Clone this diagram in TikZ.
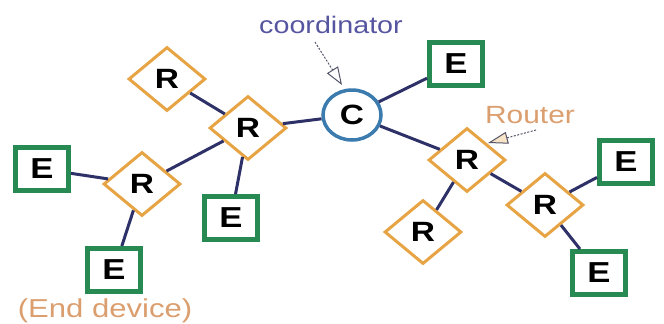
\documentclass[tikz,border=0pt]{standalone}
\usepackage{fontspec}
\setmainfont{Liberation Sans}[FakeStretch=1.2]
\usetikzlibrary{shapes.geometric,arrows.meta}
\definecolor{edgec}{HTML}{2E3168}
\definecolor{routc}{HTML}{E6A444}
\definecolor{endc}{HTML}{278A52}
\definecolor{coordc}{HTML}{3B7BAE}
\definecolor{lblblue}{HTML}{5656A0}
\definecolor{lbltan}{HTML}{DB9E6E}
\definecolor{ptrgray}{HTML}{55556A}
\tikzset{
  router/.style={diamond, draw=routc, line width=3bp, fill=white, minimum width=77bp, minimum height=64bp, inner sep=0pt, font=\fontsize{28}{30}\selectfont\bfseries},
  enddev/.style={rectangle, draw=endc, line width=5bp, fill=white, minimum width=53bp, minimum height=43bp, inner sep=0pt, font=\fontsize{29}{31}\selectfont\bfseries},
  coordn/.style={ellipse, draw=coordc, line width=3.5bp, fill=white, minimum width=58bp, minimum height=50bp, inner sep=0pt, font=\fontsize{28}{30}\selectfont\bfseries},
  link/.style={draw=edgec, line width=3bp},
  pointer/.style={draw=ptrgray, line width=1bp, dash pattern=on 2bp off 1.5bp}
}
\begin{document}
\begin{tikzpicture}[x=1bp,y=-1bp]
\useasboundingbox (0,0) rectangle (664,323);
% nodes
\node[router] (Rtl) at (167,79) {R};
\node[router] (Rc) at (248,128) {R};
\node[router] (Rl) at (142,184) {R};
\node[enddev] (El) at (42,169) {E};
\node[enddev] (Em) at (231,218) {E};
\node[enddev] (Eb) at (114,270) {E};
\node[coordn] (C) at (352,115) {C};
\node[enddev] (Etr) at (456,64) {E};
\node[router] (Rr) at (467,160) {R};
\node[router] (Rb) at (423,232) {R};
\node[router] (Rfr) at (545,205) {R};
\node[enddev] (Er1) at (626,162) {E};
\node[enddev] (Er2) at (599,273) {E};
% links
\path[link] (Rtl) -- (Rc);
\path[link] (Rc) -- (C);
\path[link] (Rc) -- (Rl);
\path[link] (Rc) -- (Em);
\path[link] (Rl) -- (El);
\path[link] (Rl) -- (Eb);
\path[link] (C) -- (Etr);
\path[link] (C) -- (Rr);
\path[link] (Rr) -- (Rb);
\path[link] (Rr) -- (Rfr);
\path[link] (Rfr) -- (Er1);
\path[link] (Rfr) -- (Er2);
% labels
\node[anchor=base, text=lblblue, font=\fontsize{24}{26}\selectfont] (lcoord) at (331,33) {coordinator};
\node[anchor=base, text=lbltan, font=\fontsize{25}{27}\selectfont] (lrouter) at (530,123) {Router};
\node[anchor=base, text=lbltan, font=\fontsize{26}{28}\selectfont] (lend) at (105,317) {(End device)};
% pointers
\coordinate (cs) at (315,42);
\coordinate (ct) at (342,85);
\coordinate (rs) at (536,130);
\coordinate (rt) at (488,143);
\draw[pointer, -{Triangle[open, length=18bp, width=13bp, line width=1bp]}] (cs) -- (ct);
\draw[pointer, -{Triangle[fill=routc!30, length=20bp, width=12bp, line width=1bp]}] (rs) -- (rt);
\end{tikzpicture}
\end{document}
